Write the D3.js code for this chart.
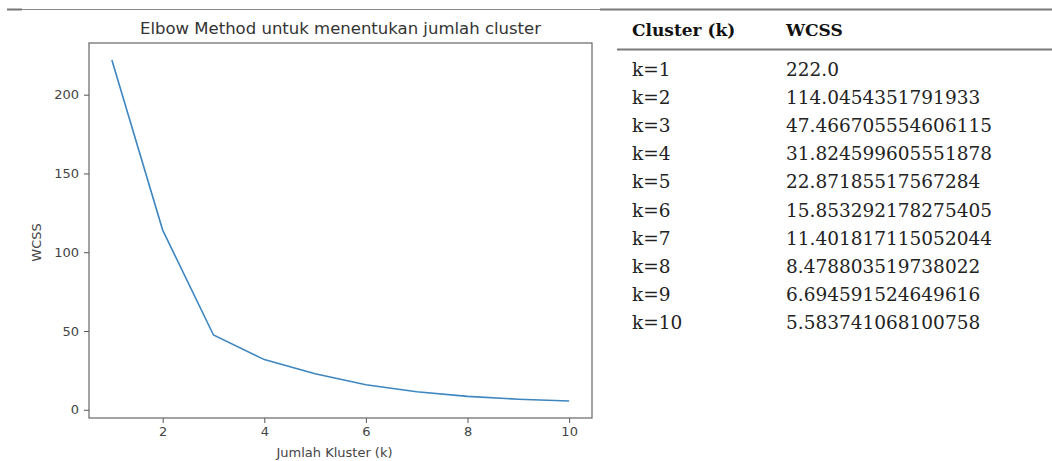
<!DOCTYPE html>
<html>
<head>
<meta charset="utf-8">
<script src="https://cdn.jsdelivr.net/npm/d3@7"></script>
<style>
  body { margin: 0; background: #fff; }
  svg { display: block; }
</style>
</head>
<body>
<div id="chart"></div>
<script>
// data from the elbow run
const clusters = [1, 2, 3, 4, 5, 6, 7, 8, 9, 10];
const wcss = [222.0, 114.0454351791933, 47.466705554606115, 31.824599605551878, 22.87185517567284,
              15.853292178275405, 11.401817115052044, 8.478803519738022, 6.694591524649616, 5.583741068100758];
const wcssText = ["222.0", "114.0454351791933", "47.466705554606115", "31.824599605551878", "22.87185517567284",
                  "15.853292178275405", "11.401817115052044", "8.478803519738022", "6.694591524649616", "5.583741068100758"];
const xTicks = [2, 4, 6, 8, 10];
const yTicks = [0, 50, 100, 150, 200];
const tableHeader = ["Cluster (k)", "WCSS"];

const W = 1052, H = 461;
const plot = { left: 89, right: 592, top: 43, bottom: 418 };

const svg = d3.select('#chart').append('svg')
    .attr('width', W)
    .attr('height', H);

// matplotlib style 5% margins
const x = d3.scaleLinear()
    .domain([0.55, 10.45])
    .range([plot.left, plot.right]);
const yMin = d3.min(wcss), yMax = d3.max(wcss), pad = (yMax - yMin) * 0.05;
const y = d3.scaleLinear()
    .domain([yMin - pad, yMax + pad])
    .range([plot.bottom, plot.top]);

// top rule of the page
svg.append('line')
    .attr('x1', 7).attr('x2', W).attr('y1', 9.5).attr('y2', 9.5)
    .attr('stroke', '#8a8a8a').attr('stroke-width', 1);
svg.append('line')
    .attr('x1', 7).attr('x2', 22).attr('y1', 9.5).attr('y2', 9.5)
    .attr('stroke', '#777').attr('stroke-width', 2);

// ---- chart ----
const fontSans = 'DejaVu Sans, sans-serif';

svg.append('text')
    .attr('x', (plot.left + plot.right) / 2)
    .attr('y', 34)
    .attr('text-anchor', 'middle')
    .attr('font-family', fontSans)
    .attr('font-size', 16.5)
    .attr('fill', '#333')
    .text('Elbow Method untuk menentukan jumlah cluster');

const xAxis = svg.append('g')
    .attr('transform', `translate(0,${plot.bottom})`)
    .call(d3.axisBottom(x).tickValues(xTicks).tickSize(5).tickPadding(4).tickFormat(d3.format('d')));
const yAxis = svg.append('g')
    .attr('transform', `translate(${plot.left},0)`)
    .call(d3.axisLeft(y).tickValues(yTicks).tickSize(5).tickPadding(5).tickFormat(d3.format('d')));

[xAxis, yAxis].forEach(g => {
    g.select('.domain').remove();
    g.selectAll('line').attr('stroke', '#555');
    g.selectAll('text')
        .attr('font-family', fontSans)
        .attr('font-size', 13)
        .attr('fill', '#444');
});

const line = d3.line()
    .x((d, i) => x(clusters[i]))
    .y(d => y(d));

svg.append('path')
    .datum(wcss)
    .attr('d', line)
    .attr('fill', 'none')
    .attr('stroke', '#3d86c0')
    .attr('stroke-width', 1.6);

// axes frame
svg.append('rect')
    .attr('x', plot.left).attr('y', plot.top)
    .attr('width', plot.right - plot.left)
    .attr('height', plot.bottom - plot.top)
    .attr('fill', 'none')
    .attr('stroke', '#666')
    .attr('stroke-width', 1.2);

svg.append('text')
    .attr('x', (plot.left + plot.right) / 2 - 6)
    .attr('y', 457)
    .attr('text-anchor', 'middle')
    .attr('font-family', fontSans)
    .attr('font-size', 13)
    .attr('fill', '#444')
    .text('Jumlah Kluster (k)');

svg.append('text')
    .attr('transform', `translate(41,${(plot.top + plot.bottom) / 2 + 12}) rotate(-90)`)
    .attr('text-anchor', 'middle')
    .attr('font-family', fontSans)
    .attr('font-size', 13)
    .attr('fill', '#444')
    .text('WCSS');

// ---- table ----
const fontSerif = 'DejaVu Serif, serif';
const colX = [632, 786];
const rowY = d3.scaleLinear().domain([1, 10]).range([76, 329]);

svg.append('line')
    .attr('x1', 600).attr('x2', W).attr('y1', 9.5).attr('y2', 9.5)
    .attr('stroke', '#7a7a7a').attr('stroke-width', 2);
svg.append('line')
    .attr('x1', 617).attr('x2', W).attr('y1', 49.5).attr('y2', 49.5)
    .attr('stroke', '#7a7a7a').attr('stroke-width', 2);

svg.selectAll('.th')
    .data(tableHeader)
    .enter()
    .append('text')
        .attr('class', 'th')
        .attr('x', (d, i) => colX[i])
        .attr('y', 36)
        .attr('font-family', fontSerif)
        .attr('font-weight', 'bold')
        .attr('font-size', 17)
        .attr('fill', '#111')
        .text(d => d);

svg.selectAll('.tk')
    .data(clusters)
    .enter()
    .append('text')
        .attr('class', 'tk')
        .attr('x', colX[0])
        .attr('y', d => rowY(d))
        .attr('font-family', fontSerif)
        .attr('font-size', 18.5)
        .attr('fill', '#222')
        .text(d => 'k=' + d);

svg.selectAll('.tv')
    .data(wcssText)
    .enter()
    .append('text')
        .attr('class', 'tv')
        .attr('x', colX[1])
        .attr('y', (d, i) => rowY(clusters[i]))
        .attr('font-family', fontSerif)
        .attr('font-size', 18.5)
        .attr('fill', '#222')
        .text(d => d);
</script>
</body>
</html>
